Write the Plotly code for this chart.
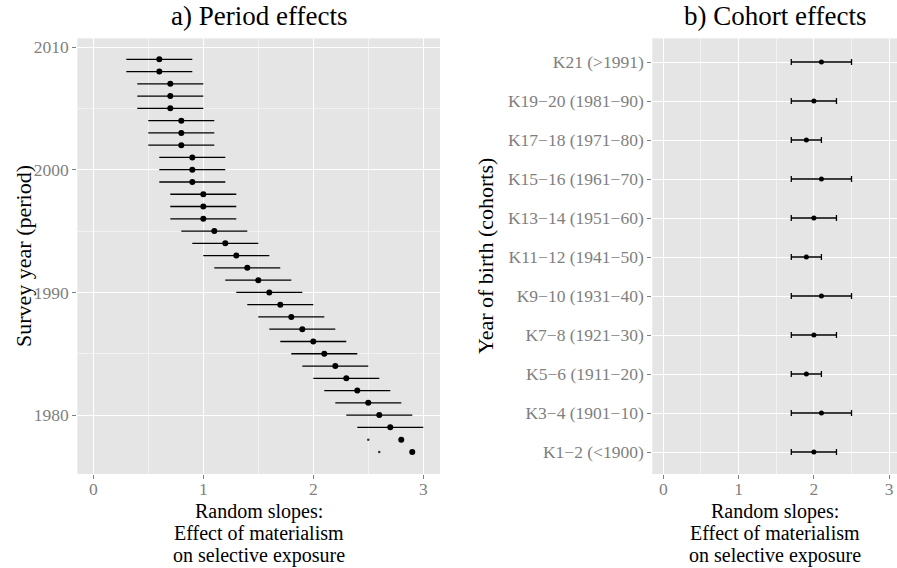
import plotly.graph_objects as go

# ---------------- data ----------------
years = [2009, 2008, 2007, 2006, 2005, 2004, 2003, 2002, 2001, 2000, 1999,
         1998, 1997, 1996, 1995, 1994, 1993, 1992, 1991, 1990, 1989, 1988,
         1987, 1986, 1985, 1984, 1983, 1982, 1981, 1980, 1979, 1978, 1977]
period_est = [0.6, 0.6, 0.7, 0.7, 0.7, 0.8, 0.8, 0.8, 0.9, 0.9, 0.9,
              1.0, 1.0, 1.0, 1.1, 1.2, 1.3, 1.4, 1.5, 1.6, 1.7, 1.8,
              1.9, 2.0, 2.1, 2.2, 2.3, 2.4, 2.5, 2.6, 2.7, 2.8, 2.9]
period_lower = [0.3, 0.3, 0.4, 0.4, 0.4, 0.5, 0.5, 0.5, 0.6, 0.6, 0.6,
                0.7, 0.7, 0.7, 0.8, 0.9, 1.0, 1.1, 1.2, 1.3, 1.4, 1.5,
                1.6, 1.7, 1.8, 1.9, 2.0, 2.1, 2.2, 2.3, 2.4, 2.5, 2.6]
period_upper = [0.9, 0.9, 1.0, 1.0, 1.0, 1.1, 1.1, 1.1, 1.2, 1.2, 1.2,
                1.3, 1.3, 1.3, 1.4, 1.5, 1.6, 1.7, 1.8, 1.9, 2.0, 2.1,
                2.2, 2.3, 2.4, 2.5, 2.6, 2.7, 2.8, 2.9, 3.0, 3.1, 3.2]
x_limit = 3.0  # bars whose upper end exceeds the scale limit are dropped

cohorts = ["K1−2 (<1900)", "K3−4 (1901−10)", "K5−6 (1911−20)", "K7−8 (1921−30)",
           "K9−10 (1931−40)", "K11−12 (1941−50)", "K13−14 (1951−60)",
           "K15−16 (1961−70)", "K17−18 (1971−80)", "K19−20 (1981−90)", "K21 (>1991)"]
cohort_est = [2.0, 2.1, 1.9, 2.0, 2.1, 1.9, 2.0, 2.1, 1.9, 2.0, 2.1]
cohort_lower = [1.7, 1.7, 1.7, 1.7, 1.7, 1.7, 1.7, 1.7, 1.7, 1.7, 1.7]
cohort_upper = [2.3, 2.5, 2.1, 2.3, 2.5, 2.1, 2.3, 2.5, 2.1, 2.3, 2.5]

x_ticks = [0, 1, 2, 3]
year_ticks = [1980, 1990, 2000, 2010]
x_title_lines = ["Random slopes:", "Effect of materialism", "on selective exposure"]

# ---------------- geometry helpers ----------------
W, H = 897, 568
def px(x): return x / W
def py(y): return 1 - y / H

FONT = "'Liberation Serif', 'Times New Roman', Times, serif"
TICKC = "#7f7f7f"
BG = "#E5E5E5"

keep = [u <= x_limit for u in period_upper]
plus = [(u - e) if k else 0 for u, e, k in zip(period_upper, period_est, keep)]
minus = [(e - l) if k else 0 for l, e, k in zip(period_lower, period_est, keep)]
drop_x = [l for l, k in zip(period_lower, keep) if not k]
drop_y = [y for y, k in zip(years, keep) if not k]

fig = go.Figure()
fig.add_trace(go.Scatter(
    x=period_est, y=years, mode="markers", xaxis="x", yaxis="y",
    marker=dict(color="black", size=6),
    error_x=dict(type="data", symmetric=False, array=plus, arrayminus=minus,
                 color="black", thickness=1.3, width=0),
    showlegend=False))
fig.add_trace(go.Scatter(
    x=drop_x, y=drop_y, mode="markers", xaxis="x", yaxis="y",
    marker=dict(color="#333333", size=2.5), showlegend=False))

fig.add_trace(go.Scatter(
    x=cohort_est, y=cohorts, mode="markers", xaxis="x2", yaxis="y2",
    marker=dict(color="black", size=5),
    error_x=dict(type="data", symmetric=False,
                 array=[u - e for u, e in zip(cohort_upper, cohort_est)],
                 arrayminus=[e - l for l, e in zip(cohort_lower, cohort_est)],
                 color="black", thickness=1.3, width=3),
    showlegend=False))

common_axis = dict(
    showline=False, zeroline=False, ticks="outside", ticklen=4, tickwidth=1,
    tickcolor=TICKC, tickfont=dict(family=FONT, size=17.5, color=TICKC),
    showgrid=True, gridcolor="white", gridwidth=1.1,
)

ytop, ybot = 38.3, 474.0
fig.update_layout(
    width=W, height=H, margin=dict(l=0, r=0, t=0, b=0),
    paper_bgcolor="white", plot_bgcolor=BG,
    font=dict(family=FONT),
    xaxis=dict(domain=[px(77.3), px(440)], range=[-0.1455, 3.152],
               tickvals=x_ticks, anchor="y", ticklabelstandoff=-5,
               minor=dict(dtick=0.5, tick0=0, showgrid=True, gridcolor="#F2F2F2", gridwidth=1),
               **common_axis),
    yaxis=dict(domain=[py(ybot), py(ytop)], range=[1975.2, 2010.71],
               tickvals=year_ticks, anchor="x",
               minor=dict(dtick=5, tick0=1980, showgrid=True, gridcolor="#F2F2F2", gridwidth=1),
               **common_axis),
    xaxis2=dict(domain=[px(652.3), 1.0], range=[-0.146, 3.104],
                tickvals=x_ticks, anchor="y2", ticklabelstandoff=-5,
                minor=dict(dtick=0.5, tick0=0, showgrid=True, gridcolor="#F2F2F2", gridwidth=1),
                **common_axis),
    yaxis2=dict(domain=[py(ybot), py(ytop)], range=[-0.564, 10.608],
                type="category", categoryorder="array", categoryarray=cohorts,
                anchor="x2", **common_axis),
)

ann = []
def text(x, y, s, size, angle=0):
    ann.append(dict(x=px(x), y=py(y), xref="paper", yref="paper", text=s,
                    showarrow=False, xanchor="center", yanchor="middle",
                    textangle=angle, font=dict(family=FONT, size=size, color="black")))

text(258.6, 16, "a) Period effects", 27)
text(774.6, 16, "b) Cohort effects", 27)
text(23, 256, "Survey year (period)", 22, -90)
text(485, 256, "Year of birth (cohorts)", 22, -90)
for cx in (258.6, 774.6):
    for i, line in enumerate(x_title_lines):
        text(cx, 511 + 22.3 * i, line, 20)
fig.update_layout(annotations=ann)

fig.write_html("out.html")
